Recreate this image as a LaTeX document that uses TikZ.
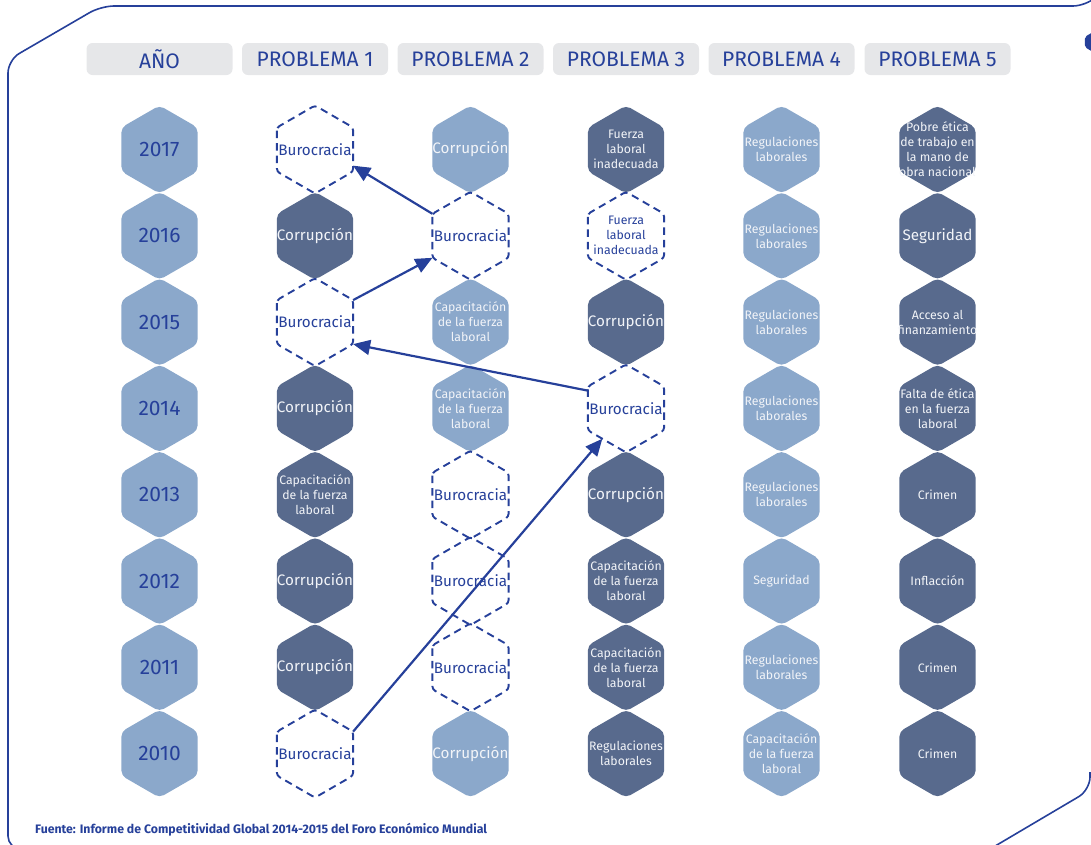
\documentclass[tikz,border=0pt]{standalone}
\usepackage{fontspec}
\setmainfont{Fira Sans}
\usetikzlibrary{shapes.geometric,arrows.meta}
\definecolor{hlight}{HTML}{8BA8CB}
\definecolor{hdark}{HTML}{586A8D}
\definecolor{navy}{HTML}{26409A}
\definecolor{hdr}{HTML}{E6E7E9}
\definecolor{txtw}{HTML}{F2F4F8}
\tikzset{
  hexbase/.style={regular polygon, regular polygon sides=6, shape border rotate=90,
    minimum size=88pt, inner sep=0pt, outer sep=0pt},
  hexl/.style={hexbase, fill=hlight, rounded corners=5pt},
  hexd/.style={hexbase, fill=hdark, rounded corners=5pt},
  hexo/.style={hexbase, draw=navy, line width=1.9pt, dash pattern=on 7.5pt off 5pt, rounded corners=3pt},
  yr/.style={font=\fontsize{21}{23}\selectfont, text=navy, inner sep=0pt},
  bw/.style={font=\fontsize{15.2}{17}\selectfont, text=txtw, inner sep=0pt},
  bb/.style={font=\fontsize{15.2}{17}\selectfont, text=navy, inner sep=0pt},
  sw/.style={font=\fontsize{12.3}{15}\selectfont, text=txtw, align=center, inner sep=0pt},
  sb/.style={font=\fontsize{12.3}{15}\selectfont, text=navy, align=center, inner sep=0pt},
  hdrbox/.style={fill=hdr, rounded corners=6pt, minimum width=146pt, minimum height=32pt,
    text=navy, font=\fontsize{21}{23}\selectfont, inner sep=0pt},
  border/.style={draw=navy, line width=1.6pt, rounded corners=13pt},
  link/.style={draw=navy, line width=2.2pt, -{Triangle[length=17pt,width=15pt]}},
}
\newcommand\HX[5]{\node[#1] (#2) at (#3) {}; \node[#4] (#2t) at (#2.center) {#5};}
\begin{document}
\begin{tikzpicture}[x=1pt,y=-1pt]
\useasboundingbox (0,0) rectangle (1091,844);
% frame
\draw[border] (60,849) -- (8,849) -- (8,60) -- (101,6) -- (1086,6) -- (1104,-10);
\draw[border] (985,852) -- (1090,790) -- (1090,772);
\node[regular polygon, regular polygon sides=6, shape border rotate=90, minimum size=21pt,
  fill=navy, rounded corners=2pt, inner sep=0pt] (blob) at (1094,42) {};
% headers
\node[hdrbox] (h0) at (159.5,59) {AÑO};
\node[hdrbox] (h1) at (315,59) {PROBLEMA 1};
\node[hdrbox] (h2) at (470.5,59) {PROBLEMA 2};
\node[hdrbox] (h3) at (626,59) {PROBLEMA 3};
\node[hdrbox] (h4) at (781.5,59) {PROBLEMA 4};
\node[hdrbox] (h5) at (937.5,59) {PROBLEMA 5};
% year column
\HX{hexl}{y17}{159.5,149.5}{yr}{2017}
\HX{hexl}{y16}{159.5,235.8}{yr}{2016}
\HX{hexl}{y15}{159.5,322.1}{yr}{2015}
\HX{hexl}{y14}{159.5,408.4}{yr}{2014}
\HX{hexl}{y13}{159.5,494.7}{yr}{2013}
\HX{hexl}{y12}{159.5,581}{yr}{2012}
\HX{hexl}{y11}{159.5,667.3}{yr}{2011}
\HX{hexl}{y10}{159.5,753.6}{yr}{2010}
% problema 1
\HX{hexo}{a17}{315,149.5}{bb}{Burocracia}
\HX{hexd}{a16}{315,235.8}{bw}{Corrupción}
\HX{hexo}{a15}{315,322.1}{bb}{Burocracia}
\HX{hexd}{a14}{315,408.4}{bw}{Corrupción}
\HX{hexd}{a13}{315,494.7}{sw}{Capacitación\\de la fuerza\\laboral}
\HX{hexd}{a12}{315,581}{bw}{Corrupción}
\HX{hexd}{a11}{315,667.3}{bw}{Corrupción}
\HX{hexo}{a10}{315,753.6}{bb}{Burocracia}
% problema 2
\HX{hexl}{b17}{470.5,149.5}{bw}{Corrupción}
\HX{hexo}{b16}{470.5,235.8}{bb}{Burocracia}
\HX{hexl}{b15}{470.5,322.1}{sw}{Capacitación\\de la fuerza\\laboral}
\HX{hexl}{b14}{470.5,408.4}{sw}{Capacitación\\de la fuerza\\laboral}
\HX{hexo}{b13}{470.5,494.7}{bb}{Burocracia}
\HX{hexo}{b12}{470.5,581}{bb}{Burocracia}
\HX{hexo}{b11}{470.5,667.3}{bb}{Burocracia}
\HX{hexl}{b10}{470.5,753.6}{bw}{Corrupción}
% problema 3
\HX{hexd}{c17}{626,149.5}{sw}{Fuerza\\laboral\\inadecuada}
\HX{hexo}{c16}{626,235.8}{sb}{Fuerza\\laboral\\inadecuada}
\HX{hexd}{c15}{626,322.1}{bw}{Corrupción}
\HX{hexo}{c14}{626,408.4}{bb}{Burocracia}
\HX{hexd}{c13}{626,494.7}{bw}{Corrupción}
\HX{hexd}{c12}{626,581}{sw}{Capacitación\\de la fuerza\\laboral}
\HX{hexd}{c11}{626,667.3}{sw}{Capacitación\\de la fuerza\\laboral}
\HX{hexd}{c10}{626,753.6}{sw}{Regulaciones\\laborales}
% problema 4
\HX{hexl}{d17}{781.5,149.5}{sw}{Regulaciones\\laborales}
\HX{hexl}{d16}{781.5,235.8}{sw}{Regulaciones\\laborales}
\HX{hexl}{d15}{781.5,322.1}{sw}{Regulaciones\\laborales}
\HX{hexl}{d14}{781.5,408.4}{sw}{Regulaciones\\laborales}
\HX{hexl}{d13}{781.5,494.7}{sw}{Regulaciones\\laborales}
\HX{hexl}{d12}{781.5,581}{sw}{Seguridad}
\HX{hexl}{d11}{781.5,667.3}{sw}{Regulaciones\\laborales}
\HX{hexl}{d10}{781.5,753.6}{sw}{Capacitación\\de la fuerza\\laboral}
% problema 5
\HX{hexd}{e17}{937.5,149.5}{sw}{Pobre ética\\de trabajo en\\la mano de\\obra nacional}
\HX{hexd}{e16}{937.5,235.8}{bw}{Seguridad}
\HX{hexd}{e15}{937.5,322.1}{sw}{Acceso al\\finanzamiento}
\HX{hexd}{e14}{937.5,408.4}{sw}{Falta de ética\\en la fuerza\\laboral}
\HX{hexd}{e13}{937.5,494.7}{sw}{Crimen}
\HX{hexd}{e12}{937.5,581}{sw}{Inflacción}
\HX{hexd}{e11}{937.5,667.3}{sw}{Crimen}
\HX{hexd}{e10}{937.5,753.6}{sw}{Crimen}
% arrows
\draw[link] (b16.150) -- (a17.337);
\draw[link] (a15.30) -- (b16.210);
\draw[link] (c14.155) -- (a15.330);
\draw[link] (a10.30) -- (c14.232);
% source
\node[anchor=west, font=\bfseries\fontsize{12.3}{14}\selectfont, text=navy, inner sep=0pt] (src) at (35,830)
  {Fuente: Informe de Competitividad Global 2014-2015 del Foro Económico Mundial};
\end{tikzpicture}
\end{document}
